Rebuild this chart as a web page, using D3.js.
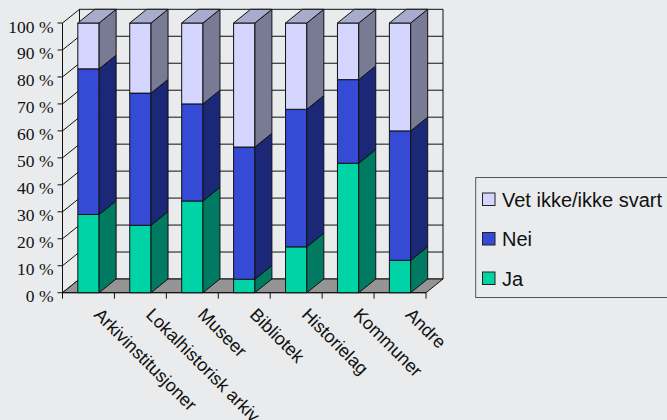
<!DOCTYPE html>
<html><head><meta charset="utf-8">
<style>html,body{margin:0;padding:0;background:#E9EBED;overflow:hidden}svg{display:block}</style>
<script src="https://cdn.jsdelivr.net/npm/d3@7"></script></head><body>
<script>
const categories=["Arkivinstitusjoner","Lokalhistorisk arkiv","Museer","Bibliotek","Historielag","Kommuner","Andre"];
const seriesNames=["Ja","Nei","Vet ikke/ikke svart"];
const ja=[29,25,34,5,17,48,12];
const nei=[54,49,36,49,51,31,48];
const vet=[17,26,30,46,32,21,40];
const yTicks=[0,10,20,30,40,50,60,70,80,90,100];
const fronts=["#00D4A6","#364BD5","#D4D6FF"];
const sides=["#007A60","#1B2777","#787B93"];
const tops=["#00A884","#2535A0","#A8ACCC"];

const W=667,H=420,dx=17,dy=13.7;
const svg=d3.select("body").append("svg").attr("width",W).attr("height",H);
const x=d3.scaleBand().domain(categories).range([62.5,426]).paddingInner(0.59).paddingOuter(0.295);
const band=d3.scaleBand().domain(categories).range([62.5,426]);
const y=d3.scaleLinear().domain([0,100]).range([292.7,23]);
const poly=(pts,fill,stroke="#111",sw=1)=>svg.append("path").attr("d",d3.line()(pts)+"Z").attr("fill",fill).attr("stroke",stroke).attr("stroke-width",sw).attr("stroke-linejoin","round");
const [x0,x1]=band.range(),y0=y(0),y1=y(100);

poly([[x0,y1],[x0+dx,y1-dy],[x0+dx,y0-dy],[x0,y0]],"#E9EBED");
poly([[x0+dx,y1-dy],[x1+dx,y1-dy],[x1+dx,y0-dy],[x0+dx,y0-dy]],"#E9EBED");
poly([[x0,y0],[x0+dx,y0-dy],[x1+dx,y0-dy],[x1,y0]],"#949494");
yTicks.filter(t=>t>0&&t<100).forEach(t=>{
  svg.append("path").attr("d",d3.line()([[x0,y(t)],[x0+dx,y(t)-dy],[x1+dx,y(t)-dy]])).attr("fill","none").attr("stroke","#111");
});
svg.append("line").attr("x1",x0).attr("x2",x0).attr("y1",y1).attr("y2",y0).attr("stroke","#111");
svg.append("line").attr("x1",x0).attr("x2",x1).attr("y1",y0).attr("y2",y0).attr("stroke","#111");
const yG=svg.append("g");
yTicks.forEach(t=>{
  yG.append("line").attr("x1",x0-5).attr("x2",x0).attr("y1",y(t)).attr("y2",y(t)).attr("stroke","#111");
  yG.append("text").attr("x",53.5).attr("y",y(t)+9.5).attr("text-anchor","end")
    .attr("font-family","'Liberation Serif'").attr("font-size",17.5).attr("fill","#111").text(t+" %");
});
const tickXs=categories.map(c=>band(c)).concat([x1]);
tickXs.forEach(t=>svg.append("line").attr("x1",t).attr("x2",t).attr("y1",y0).attr("y2",y0+6).attr("stroke","#111"));
categories.forEach(c=>{
  const lx=band(c)+band.bandwidth()/2+4.5,ly=y0+23;
  svg.append("text").attr("transform",`translate(${lx},${ly}) rotate(45)`)
    .attr("font-family","'Liberation Sans'").attr("font-size",18).attr("fill","#111").text(c);
});
const rows=categories.map((c,i)=>({c,Ja:ja[i],Nei:nei[i],Vet:vet[i]}));
const stack=d3.stack().keys(["Ja","Nei","Vet"])(rows);
categories.forEach((c,i)=>{
  const l=x(c),r=l+x.bandwidth();
  stack.forEach((s,k)=>{
    const b=y(s[i][0]),t=y(s[i][1]);
    poly([[l,t],[r,t],[r,b],[l,b]],fronts[k]);
    poly([[r,t],[r+dx,t-dy],[r+dx,b-dy],[r,b]],sides[k]);
    if(k===stack.length-1) poly([[l,t],[l+dx,t-dy],[r+dx,t-dy],[r,t]],tops[k]);
  });
});
svg.append("rect").attr("x",475.7).attr("y",177.5).attr("width",230).attr("height",120).attr("fill","#E9EBED").attr("stroke","#555");
const legendY=d3.scalePoint().domain(seriesNames.slice().reverse()).range([199.5,278.5]);
seriesNames.forEach((n,k)=>{
  svg.append("rect").attr("x",482.5).attr("y",legendY(n)-6.5).attr("width",12.5).attr("height",12.5).attr("fill",fronts[k]).attr("stroke","#222");
  svg.append("text").attr("x",502).attr("y",legendY(n)+7).attr("font-family","'Liberation Sans'").attr("font-size",20).attr("fill","#111").text(n);
});
</script></body></html>
